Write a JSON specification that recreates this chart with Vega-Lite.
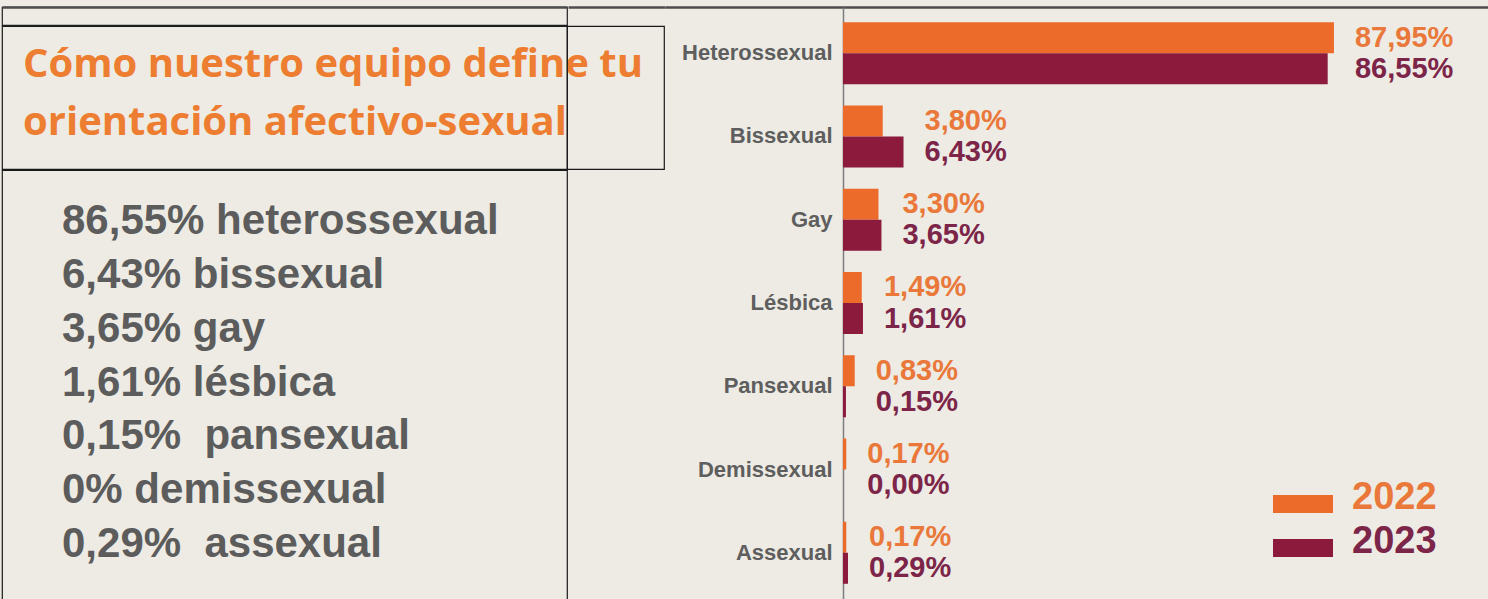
{
  "$schema": "https://vega.github.io/schema/vega-lite/v6.json",
  "background": "#edebe4",
  "padding": {"left": 1, "top": 6, "right": 0, "bottom": 0},
  "spacing": 0,
  "config": {
    "view": {"stroke": null, "fill": null},
    "concat": {"spacing": 0},
    "font": "Liberation Sans"
  },
  "hconcat": [
    {
      "spacing": -1.8,
      "vconcat": [
        {
          "spacing": 0,
          "hconcat": [
            {
              "width": 565,
              "height": 18,
              "view": {"stroke": "#222222", "strokeWidth": 1.2},
              "data": {"values": [{"v": 0}]},
              "mark": {"type": "text", "text": ""},
              "encoding": {
                "x": {"field": "v", "type": "quantitative", "scale": {"domain": [0, 1]},
                  "axis": {"orient": "top", "domain": true, "domainColor": "#4d4d4d", "domainWidth": 2.5, "ticks": false, "labels": false, "grid": false, "title": null}}
              }
            },
            {
              "width": 97,
              "height": 18,
              "data": {"values": [{"v": 0}]},
              "mark": {"type": "text", "text": ""},
              "encoding": {
                "x": {"field": "v", "type": "quantitative", "scale": {"domain": [0, 1]},
                  "axis": {"orient": "top", "domain": true, "domainColor": "#4d4d4d", "domainWidth": 2.5, "ticks": false, "labels": false, "grid": false, "title": null}}
              }
            }
          ]
        },
        {
          "bounds": "flush",
          "spacing": 0,
          "hconcat": [
            {
              "width": 565,
              "height": 143,
              "view": {"stroke": "#1a1a1a", "strokeWidth": 1.2},
              "data": {"values": [
                {"line": 1, "text": "Cómo nuestro equipo define tu"},
                {"line": 2, "text": "orientación afectivo-sexual"}
              ]},
              "mark": {"type": "text", "align": "left", "baseline": "alphabetic", "font": "Open Sans", "fontWeight": "bold", "fontSize": 40, "color": "#ed7d31", "dx": 21, "dy": 8.5},
              "encoding": {
                "x": {"datum": 0, "type": "quantitative", "scale": {"domain": [0, 1]}, "axis": null},
                "y": {"field": "line", "type": "ordinal", "scale": {"type": "point", "padding": 0.733}, "axis": null},
                "text": {"field": "text"}
              }
            },
            {
              "width": 97,
              "height": 143,
              "view": {"stroke": "#1a1a1a", "strokeWidth": 1.2},
              "data": {"values": [{"v": 0}]},
              "mark": {"type": "text", "text": ""},
              "encoding": {}
            }
          ]
        },
        {
          "width": 565,
          "height": 431,
          "view": {"stroke": "#1a1a1a", "strokeWidth": 1.2},
          "data": {"values": [
            {"order": 1, "text": "86,55% heterossexual"},
            {"order": 2, "text": "6,43% bissexual"},
            {"order": 3, "text": "3,65% gay"},
            {"order": 4, "text": "1,61% lésbica"},
            {"order": 5, "text": "0,15%\u00a0 pansexual"},
            {"order": 6, "text": "0% demissexual"},
            {"order": 7, "text": "0,29%\u00a0 assexual"}
          ]},
          "mark": {"type": "text", "align": "left", "baseline": "middle", "font": "Liberation Sans", "fontWeight": "bold", "fontSize": 42, "color": "#5c5c5c", "dx": 60, "dy": -3},
          "encoding": {
            "x": {"datum": 0, "type": "quantitative", "scale": {"domain": [0, 1]}, "axis": null},
            "y": {"field": "order", "type": "ordinal", "scale": {"type": "point", "padding": 1.043}, "axis": null},
            "text": {"field": "text"}
          }
        }
      ]
    },
    {
      "width": 823,
      "height": 592,
      "data": {"values": [
        {"cat": "Heterossexual", "year": "2022", "pct": 87.95},
        {"cat": "Heterossexual", "year": "2023", "pct": 86.55},
        {"cat": "Bissexual", "year": "2022", "pct": 3.80},
        {"cat": "Bissexual", "year": "2023", "pct": 6.43},
        {"cat": "Gay", "year": "2022", "pct": 3.30},
        {"cat": "Gay", "year": "2023", "pct": 3.65},
        {"cat": "Lésbica", "year": "2022", "pct": 1.49},
        {"cat": "Lésbica", "year": "2023", "pct": 1.61},
        {"cat": "Pansexual", "year": "2022", "pct": 0.83},
        {"cat": "Pansexual", "year": "2023", "pct": 0.15},
        {"cat": "Demissexual", "year": "2022", "pct": 0.17},
        {"cat": "Demissexual", "year": "2023", "pct": 0.00},
        {"cat": "Assexual", "year": "2022", "pct": 0.17},
        {"cat": "Assexual", "year": "2023", "pct": 0.29}
      ]},
      "encoding": {
        "y": {
          "field": "cat", "type": "nominal",
          "sort": ["Heterossexual", "Bissexual", "Gay", "Lésbica", "Pansexual", "Demissexual", "Assexual"],
          "scale": {"paddingInner": 0.255, "paddingOuter": 0.183},
          "axis": {"offset": -178, "title": null, "ticks": false, "domain": true, "domainColor": "#7d7d7d", "domainWidth": 1.5, "labelPadding": 11, "labelFont": "Liberation Sans", "labelFontWeight": "bold", "labelFontSize": 22, "labelColor": "#5e5e5e", "grid": false}
        },
        "yOffset": {"field": "year", "type": "nominal", "scale": {"paddingInner": 0, "paddingOuter": 0}}
      },
      "layer": [
        {
          "mark": {"type": "bar"},
          "encoding": {
            "x": {
              "field": "pct", "type": "quantitative",
              "scale": {"type": "pow", "exponent": 0.8, "domain": [-24.73, 123.7], "nice": false, "zero": false},
              "axis": {"orient": "top", "domain": true, "domainColor": "#4d4d4d", "domainWidth": 2.5, "ticks": false, "labels": false, "grid": false, "title": null}
            },
            "color": {
              "field": "year", "type": "nominal",
              "scale": {"domain": ["2022", "2023"], "range": ["#ec6a2a", "#8b1a3c"]},
              "legend": {
                "orient": "none", "legendX": 1282, "legendY": 472, "title": null, "padding": 0,
                "symbolType": "M-2,-0.2H2V1H-2Z", "symbolSize": 900, "symbolStrokeWidth": 0, "symbolOpacity": 1,
                "labelFont": "Liberation Sans", "labelFontWeight": "bold", "labelFontSize": 38, "labelOffset": 30, "labelBaseline": "middle",
                "rowPadding": 6,
                "labelLimit": 300,
                "encode": {"labels": {"update": {"fill": {"signal": "datum.label == '2022' ? '#e9783a' : '#7c2548'"}}}}
              }
            }
          }
        },
        {
          "transform": [
            {"joinaggregate": [{"op": "max", "field": "pct", "as": "mx"}], "groupby": ["cat"]},
            {"calculate": "replace(format(datum.pct, '.2f'), '.', ',') + '%'", "as": "label"}
          ],
          "mark": {"type": "text", "align": "left", "baseline": "middle", "dx": 21, "font": "Liberation Sans", "fontWeight": "bold", "fontSize": 29},
          "encoding": {
            "x": {"field": "mx", "type": "quantitative"},
            "text": {"field": "label"},
            "color": {"condition": {"test": "datum.year === '2022'", "value": "#e9783a"}, "value": "#7c2548"}
          }
        }
      ]
    }
  ]
}
